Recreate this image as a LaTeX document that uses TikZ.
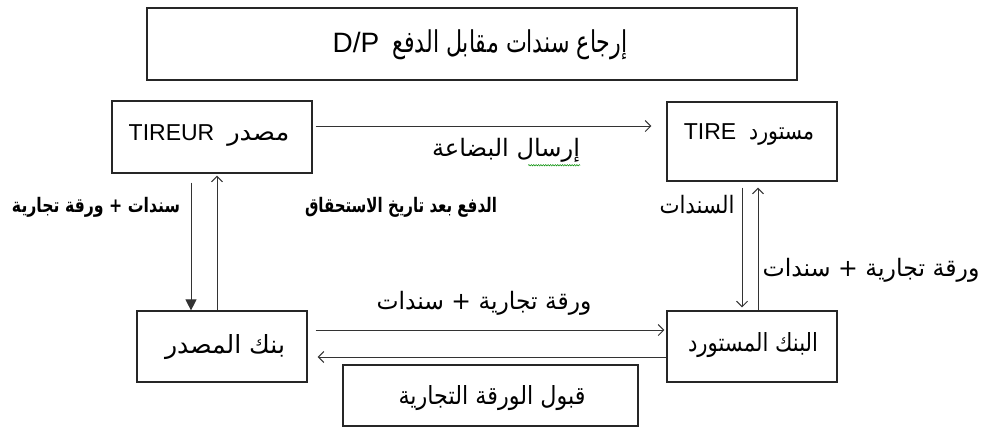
\documentclass[tikz,border=0pt]{standalone}
\usepackage{fontspec}
\usepackage{graphicx}
\setmainfont{Liberation Sans}
\newfontfamily\arabicfont[Script=Arabic]{DejaVu Sans}
\TeXXeTstate=1
\usetikzlibrary{arrows.meta,decorations.pathmorphing}
% Arabic text at a given size, narrowed or widened to a given width
\newcommand{\artext}[3]{\resizebox{#2}{\height}{\fontsize{#1}{#1}\selectfont\arabicfont #3}}
\newcommand{\artextb}[3]{\resizebox{#2}{\height}{\fontsize{#1}{#1}\selectfont\arabicfont\bfseries #3}}

\begin{document}
\begin{tikzpicture}[x=1pt,y=-1pt,
  box/.style={draw=black!85,line width=1.2pt,inner sep=0pt},
  txt/.style={inner sep=0pt,text=black},
  flow/.style={draw=black!80,line width=1pt,-{Straight Barb[length=5.5pt,width=11pt,line width=1pt]}},
  flowfill/.style={draw=black!80,line width=1pt,-{Triangle[length=11pt,width=11pt]}},
  font=\fontsize{23}{27}\selectfont]
\useasboundingbox (0,0) rectangle (981,429);

% boxes
\node[box,minimum width=650pt,minimum height=72pt] (title) at (472,44) {};
\node[box,minimum width=200pt,minimum height=72pt] (tireur) at (212,137) {};
\node[box,minimum width=170pt,minimum height=79pt] (tire) at (752,141.5) {};
\node[box,minimum width=170pt,minimum height=71pt] (bankL) at (222,346.5) {};
\node[box,minimum width=170pt,minimum height=71pt] (bankR) at (752,346.5) {};
\node[box,minimum width=295pt,minimum height=61pt] (accept) at (490.5,395.5) {};

% box texts
\node[txt] (titleT) at (480,45) {\fontsize{28}{32}\selectfont D/P\hspace{13pt}\artext{30pt}{235pt}{\beginR إرجاع سندات مقابل الدفع\endR}};
\node[txt] (tireurT) at (209,136) {TIREUR\hspace{13pt}\artext{24pt}{62pt}{\beginR مصدر\endR}};
\node[txt] (tireT) at (749,135) {TIRE\hspace{13pt}\artext{24pt}{65pt}{\beginR مستورد\endR}};
\node[txt] (bankLT) at (225,347) {\artext{25pt}{120pt}{\beginR بنك المصدر\endR}};
\node[txt] (bankRT) at (753,345) {\artext{25pt}{130pt}{\beginR البنك المستورد\endR}};
\node[txt] (acceptT) at (492,398) {\artext{25pt}{187pt}{\beginR قبول الورقة التجارية\endR}};

% connectors
\draw[flow] ([xshift=3pt,yshift=11pt]tireur.east) -- ([xshift=-15pt,yshift=15.5pt]tire.west);
\draw[flowfill] ([xshift=-21pt,yshift=-9pt]tireur.south) -- ([xshift=-31pt]bankL.north);
\draw[flow] ([xshift=-5pt]bankL.north) -- ([xshift=5pt,yshift=-2pt]tireur.south);
\draw[flow] ([xshift=-10pt,yshift=-6pt]tire.south) -- ([xshift=-10pt,yshift=3pt]bankR.north);
\draw[flow] ([xshift=6pt]bankR.north) -- ([xshift=6pt,yshift=-6pt]tire.south);
\draw[flow] ([xshift=8pt,yshift=16.5pt]bankL.east) -- ([xshift=-2pt,yshift=16.5pt]bankR.west);
\draw[flow] ([yshift=-10.5pt]bankR.west) -- ([xshift=10pt,yshift=-10.5pt]bankL.east);

% connector labels
\node[txt] (lblShip) at (506,150) {\artext{24pt}{148pt}{\beginR إرسال البضاعة\endR}};
\draw[green!55!black,line width=0.5pt,decorate,decoration={snake,amplitude=0.7pt,segment length=2.4pt}]
  ([xshift=-52pt,yshift=-3pt]lblShip.south east) -- ([yshift=-3pt]lblShip.south east);
\node[txt] (lblPay) at (401,207) {\artextb{20pt}{192pt}{\beginR الدفع بعد تاريخ الاستحقاق\endR}};
\node[txt] (lblDocsA) at (96,207) {\artextb{20pt}{168pt}{\beginR سندات + ورقة تجارية\endR}};
\node[txt] (lblDocsB) at (697,205) {\artext{24pt}{75pt}{\beginR السندات\endR}};
\node[txt] (lblDocsC) at (871,270) {\artext{24pt}{217pt}{\beginR ورقة تجارية + سندات\endR}};
\node[txt] (lblDocsD) at (484,303) {\artext{24pt}{215pt}{\beginR ورقة تجارية + سندات\endR}};
\end{tikzpicture}
\end{document}
